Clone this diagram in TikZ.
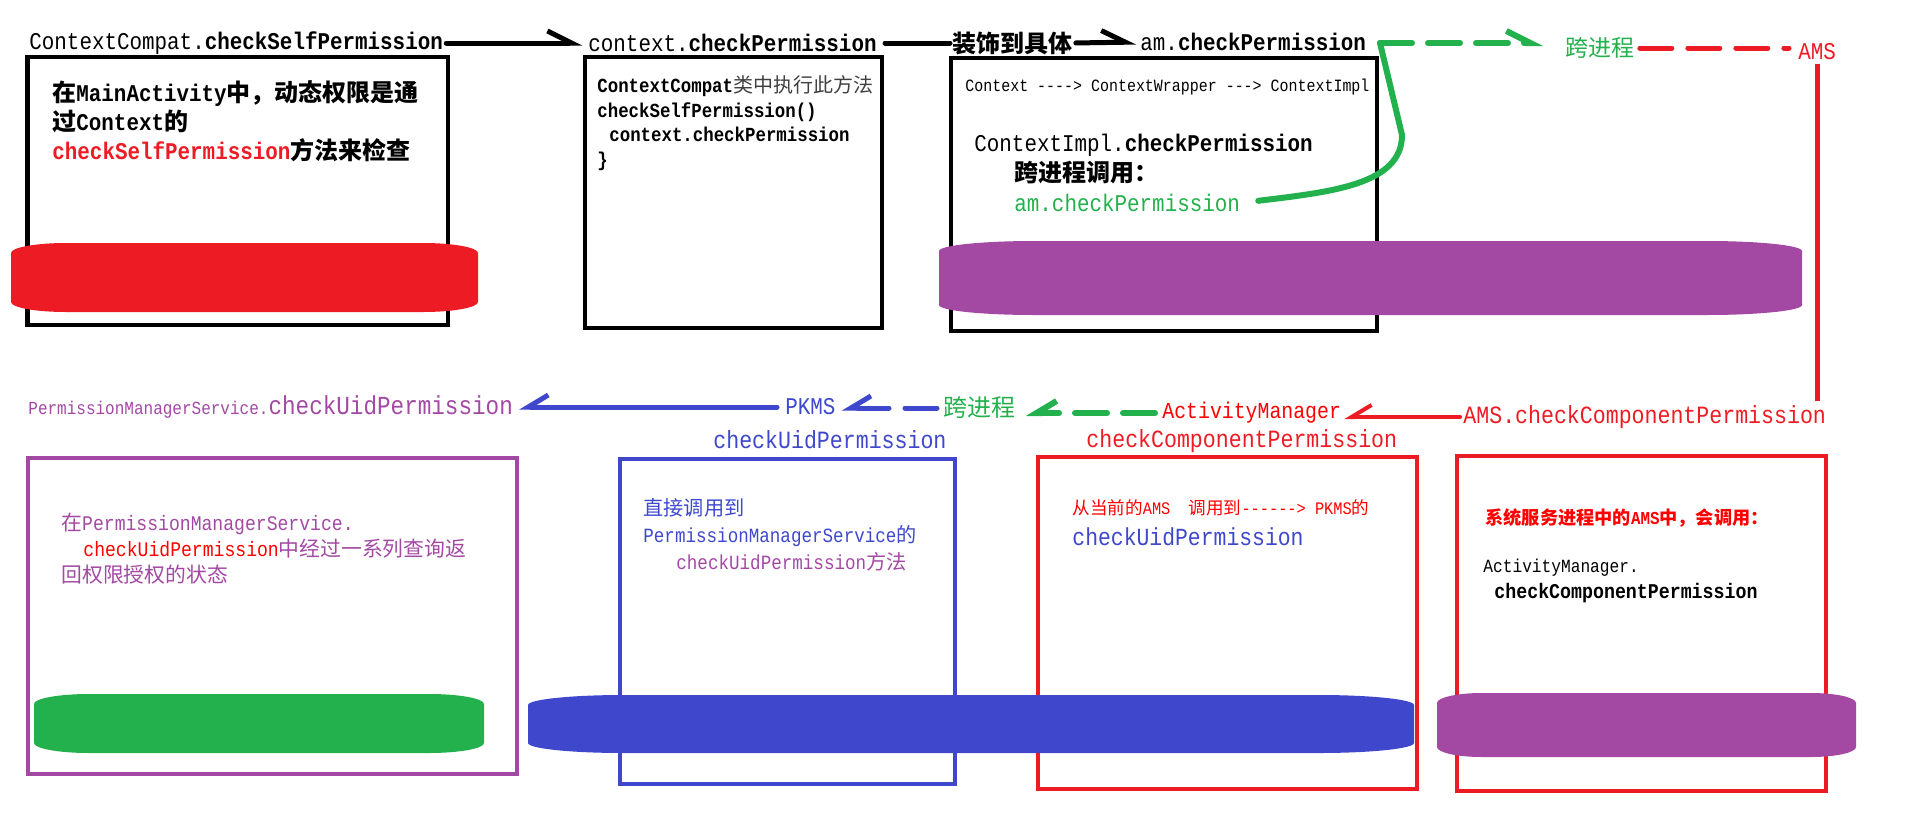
\documentclass[tikz,border=0pt]{standalone}
\usepackage{fontspec}
\setmainfont{Liberation Mono}[FakeStretch=0.87]
\newfontfamily\zhfont{Noto Sans CJK SC}
\usepackage{tikz}
\usetikzlibrary{arrows.meta,calc}
\definecolor{cred}{RGB}{237,28,36}
\definecolor{cgreen}{RGB}{34,177,76}
\definecolor{cpurple}{RGB}{163,73,164}
\definecolor{cblue}{RGB}{63,72,204}
\newcommand\zh[1]{{\zhfont #1}}
\newcommand\fsz[1]{\fontsize{#1}{#1}\selectfont}
\newcommand\blob[6]{
\fill[#1] (#2,{#3+10}) .. controls (#2,{#3+4.5}) and ({#2+0.45*#6},#3) .. ({#2+#6},#3) -- ({#4-#6},#3) .. controls ({#4-0.45*#6},#3) and (#4,{#3+4.5}) .. (#4,{#3+10}) -- (#4,{#5-10}) .. controls (#4,{#5-4.5}) and ({#4-0.45*#6},#5) .. ({#4-#6},#5) -- ({#2+#6},#5) .. controls ({#2+0.45*#6},#5) and (#2,{#5-4.5}) .. (#2,{#5-10}) -- cycle;}
\tikzset{
lbl/.style={inner sep=0pt, anchor=west},
box/.style={line width=2.2pt},
rarr/.style={line width=2.5pt, line cap=round, -{Straight Barb[harpoon,length=12pt,width=12pt]}},
larr/.style={line width=2.5pt, line cap=round, -{Straight Barb[harpoon,swap,length=10pt,width=12pt]}},
dsh/.style={dash pattern=on 16pt off 8pt}
}

\begin{document}
\begin{tikzpicture}[x=0.5pt, y=-0.5pt]
\useasboundingbox (0,0) rectangle (1905,814);
\fill[white] (0,0) rectangle (1905,814);
% boxes
\draw[box] (27.5,57) rectangle (448,325);
\draw[box] (585,57) rectangle (882,328);
\draw[box] (951,58) rectangle (1377,331);
\draw[box, cpurple] (28,458) rectangle (517,774);
\draw[box, cblue] (620,459) rectangle (955,784);
\draw[box, cred] (1038,457) rectangle (1417,789);
\draw[box, cred] (1457,456) rectangle (1826,791);
% drums
\blob{cred}{11}{243}{478}{312}{55}
\blob{cpurple}{939}{241}{1802}{315}{95}
\blob{cgreen}{34}{694}{484}{753}{55}
\blob{cblue}{528}{695}{1414}{753}{95}
\blob{cpurple}{1437}{693}{1856}{757}{45}

% top row
\node[lbl, font=\fsz{12}] (t1) at (29,43) {ContextCompat.\textbf{checkSelfPermission}};
\node[lbl, font=\fsz{12}] (t2) at (588,43) {context.\textbf{checkPermission}};
\node[lbl, font=\fsz{12}\bfseries] (t3) at (952,43) {\zh{装饰到具体}};
\node[lbl, font=\fsz{12}] (t4) at (1140,42) {am.\textbf{checkPermission}};
\node[lbl, font=\fsz{11.5}, text=cgreen] (t5) at (1565,48) {\zh{跨进程}};
\node[lbl, font=\fsz{12}, text=cred] (t6) at (1798,52) {AMS};
\coordinate (gs) at (1380,43);

\node[lbl, align=left, font=\fontsize{12}{14.5}\selectfont\bfseries] (x1) at (52,121) {\zh{在}MainActivity\zh{中，动态权限是通}\\\zh{过}Context\zh{的}\\\textcolor{cred}{checkSelfPermission}\zh{方法来检查}};
\node[lbl, align=left, font=\fontsize{10}{12.3}\selectfont\bfseries] (x2) at (597,123) {ContextCompat\textcolor{darkgray}{\mdseries\zh{类中执行此方法}}\\checkSelfPermission()\\\hspace*{6pt}context.checkPermission\\\}};
\node[lbl, font=\fsz{8.6}] (c1) at (965,87) {Context -{}-{}-{}-> ContextWrapper -{}-{}-> ContextImpl};
\node[lbl, font=\fsz{12}] (c2) at (974,145) {ContextImpl.\textbf{checkPermission}};
\node[lbl, font=\fsz{12}\bfseries] (c3a) at (1014,173) {\zh{跨进程调用：}};
\node[lbl, font=\fsz{12}, text=cgreen] (c3) at (1014,203) {am.checkPermission};

% second row
\node[lbl, text=cpurple] (r1) at (28,407) {{\fsz{9.2}PermissionManagerService.}{\fsz{13}checkUidPermission}};
\node[lbl, font=\fsz{12}, text=cblue] (r2) at (785,407) {PKMS};
\node[lbl, font=\fsz{12}, text=cgreen] (r3) at (943,408) {\zh{跨进程}};
\node[lbl, font=\fsz{11.4}, text=red] (r4) at (1162,413) {ActivityManager};
\node[lbl, font=\fsz{12.4}, text=cred] (r5) at (1463,417) {AMS.checkComponentPermission};
\node[lbl, font=\fsz{12.4}, text=cblue] (s1) at (713,440) {checkUidPermission};
\node[lbl, font=\fsz{12.4}, text=cred] (s2) at (1086,441) {checkComponentPermission};

\node[lbl, align=left, text=cpurple, font=\fontsize{10.4}{13}\selectfont] (x4) at (61,549) {\zh{在}PermissionManagerService.\\\hspace*{11pt}\textcolor{red}{checkUidPermission}\zh{中经过一系列查询返}\\\zh{回权限授权的状态}};
\node[lbl, align=left, text=cblue, font=\fontsize{10.1}{13.5}\selectfont] (x5) at (643,535) {\zh{直接调用到}\\PermissionManagerService\zh{的}\\\hspace*{16.5pt}\textcolor{cpurple}{checkUidPermission\zh{方法}}};
\node[lbl, text=red, font=\fsz{8.8}] (x6) at (1072,508) {\zh{从当前的}AMS\ \ \zh{调用到}-{}-{}-{}-{}-{}-> PKMS\zh{的}};
\node[lbl, text=cblue, font=\fsz{12.3}] (x6b) at (1072,537) {checkUidPermission};
\node[lbl, text=red, font=\fsz{9.1}\bfseries] (x7) at (1485,518) {\zh{系统服务进程中的}AMS\zh{中，会调用：}};
\node[lbl, font=\fsz{9.3}] (x8) at (1483,568) {ActivityManager.};
\node[lbl, font=\fsz{10.5}\bfseries] (x9) at (1494,593) {checkComponentPermission};

% connectors
\draw[rarr, shorten <=1.5pt, shorten >=3pt] (t1.east) -- (t2.west);
\draw[line width=2.5pt, line cap=round, shorten <=4pt, shorten >=1pt] (t2.east) -- (t3.west);
\draw[rarr, shorten <=1.5pt, shorten >=2pt] (t3.east) -- (t4.west);
\draw[rarr, cgreen, line width=3pt, dsh, shorten >=11pt] (gs) -- (gs -| t5.west);
\draw[cgreen, line width=3pt, line cap=round, shorten <=9pt] (c3.east) .. controls (1330,192) and (1402,185) .. (1402,135) -- (gs);
\draw[cred, line width=2.5pt, line cap=round, dsh, shorten <=2.5pt, shorten >=4.5pt] (t5.east) -- (t5.east -| t6.west);
\draw[cred, line width=2.5pt, shorten <=1.5pt, shorten >=2pt] (t6.south) -- (t6.south |- r5.north);
\draw[larr, cred, line width=2pt, shorten <=1.5pt, shorten >=1.5pt] (r5.west) -- (r5.west -| r4.east);
\draw[larr, cgreen, line width=3pt, dsh, shorten <=3.5pt, shorten >=5pt] (r4.west) -- (r4.west -| r3.east);
\draw[larr, cblue, line width=2.5pt, dsh, shorten <=3pt, shorten >=3pt] (r3.west) -- (r3.west -| r2.east);
\draw[larr, cblue, line width=2.5pt, shorten <=4pt, shorten >=3pt] (r2.west) -- (r2.west -| r1.east);
\end{tikzpicture}
\end{document}
